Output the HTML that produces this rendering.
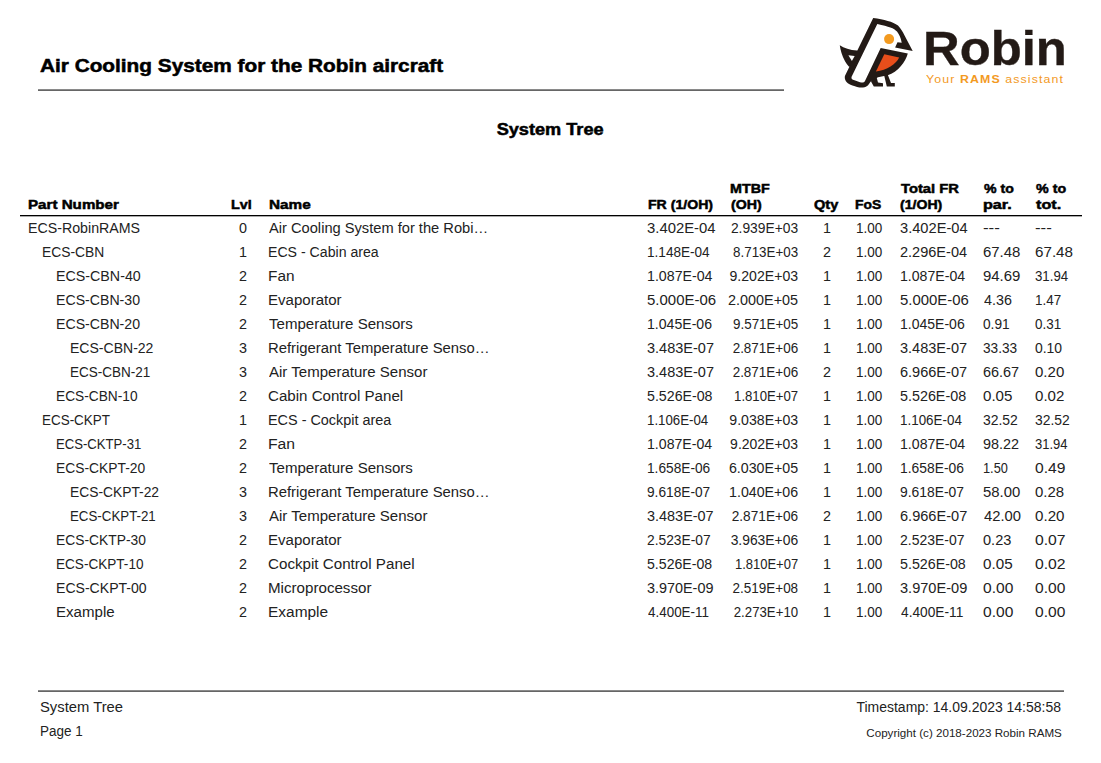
<!DOCTYPE html>
<html><head><meta charset="utf-8"><title>System Tree</title>
<style>
html,body{margin:0;padding:0;background:#fff;}
body{width:1101px;height:763px;position:relative;overflow:hidden;font-family:"Liberation Sans",sans-serif;}
div{position:absolute;white-space:nowrap;}
span{display:inline-block;}
.b{font-size:14px;line-height:24px;height:24px;color:#222;}
.h{font-size:13px;line-height:16px;height:16px;font-weight:bold;color:#000;-webkit-text-stroke:0.5px #000;}
.title{left:40px;top:54px;font-size:18px;line-height:24px;font-weight:bold;color:#000;-webkit-text-stroke:0.5px #000;}
.sub{left:0;width:1101px;text-align:center;top:120px;font-size:16px;line-height:20px;font-weight:bold;color:#000;-webkit-text-stroke:0.5px #000;}
.rule1{left:38px;top:89px;width:746px;height:1px;background:#666;border-top:1px solid #8a8a8a;}
.rule2{left:20px;top:215px;width:1062px;height:1px;background:#000;border-bottom:1px solid #aaa;}
.rule3{left:38px;top:690px;width:1026px;height:1px;background:#666;border-top:1px solid #8a8a8a;}
.ft{font-size:14px;line-height:20px;color:#222;}
.cp{font-size:10.5px;line-height:20px;color:#222;}
.robin{left:922.8px;top:23.3px;font-size:48.8px;line-height:50px;font-weight:bold;color:#231a16;-webkit-text-stroke:0.35px #231a16;transform:scaleX(1.041);transform-origin:left;}
.tag{left:926px;top:72px;font-size:11px;line-height:14px;color:#f39a1f;letter-spacing:1.0px;}
</style></head><body>
<div class="title"><span style="transform:scaleX(1.155);transform-origin:left">Air Cooling System for the Robin aircraft</span></div>
<div class="rule1"></div>
<svg style="position:absolute;left:0;top:0" width="1101" height="100" viewBox="0 0 1101 100">
<path fill="#231a16" d="M873.2,17.9 C884,19.5 893,21.5 898,25.5 C901,29 903,32 904.3,34.9 L912.7,51.1 L895.1,47.5 L897.5,42.2 L901.7,42.7 C901,38 899,34 897,31.5 C894,28 889,26.5 877.3,23.9 L851.6,76.7 C851,78.5 852,79.6 854.5,80.2 L860,82.2 C862.5,82.8 864,82.5 865,81 L870.9,80.5 C869.5,84 867.5,87 863,87.5 C860,87.8 857,87.3 850.5,84.7 C846.5,83 844.2,80 844.9,76 Z
M839.75,45.3 C844,48 850,50.2 857,50.5 L860,50.5 L852,67.5 L848.8,66.4 C847.5,65 846,63 844.9,60.9 C842,56 840.5,50 839.75,45.3 Z
M880.7,48 L907.8,53.5 C905.5,62 898,72 887.7,75.2 L878,77.3 L871.3,81 L868,84.5 L864.5,82 Z
M871,81.5 L876.4,76.5 L878,82.6 L883,83.3 L883,86.4 L873.8,86.4 Z
M884.3,76 L887.7,74.5 L891,83 L894.8,83 L894.8,86.4 L886.8,86.4 Z"/>
<path fill="#fff" d="M848.4,55.2 L854.7,56 L851.9,60.9 Z"/>
<path fill="#e84e1b" d="M884.3,54.2 L899.2,57.4 C896,64 887,70 875.9,71.5 Z"/>
<circle cx="889.1" cy="39.1" r="5" fill="#f39a1f"/>
</svg>

<div class="robin">Robin</div>
<div class="tag"><span style="transform:scaleX(1.1205);transform-origin:left">Your <b>RAMS</b> assistant</span></div>
<div class="sub"><span style="transform:scaleX(1.1344);transform-origin:center">System Tree</span></div>
<div class="h" style="left:28.0px;top:197px;"><span style="transform:scaleX(1.1654);transform-origin:left">Part Number</span></div>
<div class="h" style="left:231.0px;top:197px;"><span style="transform:scaleX(1.1066);transform-origin:left">Lvl</span></div>
<div class="h" style="left:269.3px;top:197px;"><span style="transform:scaleX(1.1782);transform-origin:left">Name</span></div>
<div class="h" style="left:647.6px;top:197px;"><span style="transform:scaleX(1.0849);transform-origin:left">FR (1/OH)</span></div>
<div class="h" style="left:730.0px;top:181px;"><span style="transform:scaleX(1.1);transform-origin:left">MTBF</span></div>
<div class="h" style="left:731.1px;top:197px;"><span style="transform:scaleX(1.0932);transform-origin:left">(OH)</span></div>
<div class="h" style="left:813.8px;top:197px;"><span style="transform:scaleX(1.1186);transform-origin:left">Qty</span></div>
<div class="h" style="left:854.6px;top:197px;"><span style="transform:scaleX(1.0666);transform-origin:left">FoS</span></div>
<div class="h" style="left:901.2px;top:181px;"><span style="transform:scaleX(1.1355);transform-origin:left">Total FR</span></div>
<div class="h" style="left:900.4px;top:197px;"><span style="transform:scaleX(1.085);transform-origin:left">(1/OH)</span></div>
<div class="h" style="left:984.0px;top:181px;"><span style="transform:scaleX(1.0859);transform-origin:left">% to</span></div>
<div class="h" style="left:982.9px;top:197px;"><span style="transform:scaleX(1.2427);transform-origin:left">par.</span></div>
<div class="h" style="left:1036.4px;top:181px;"><span style="transform:scaleX(1.0968);transform-origin:left">% to</span></div>
<div class="h" style="left:1036.4px;top:197px;"><span style="transform:scaleX(1.2456);transform-origin:left">tot.</span></div>
<div class="rule2"></div>
<div class="b" style="left:28.0px;top:216px;"><span style="transform:scaleX(1.0146);transform-origin:left">ECS-RobinRAMS</span></div>
<div class="b" style="left:142.8px;width:200px;top:216px;text-align:center;"><span style="transform:scaleX(1.025);transform-origin:center">0</span></div>
<div class="b" style="left:269.4px;top:216px;"><span style="transform:scaleX(1.0469);transform-origin:left">Air Cooling System for the Robi&hellip;</span></div>
<div class="b" style="left:646.7px;top:216px;"><span style="transform:scaleX(1.0613);transform-origin:left">3.402E-04</span></div>
<div class="b" style="right:303.2px;top:216px;text-align:right;"><span style="transform:scaleX(0.9864);transform-origin:right">2.939E+03</span></div>
<div class="b" style="left:726.5px;width:200px;top:216px;text-align:center;"><span style="transform:scaleX(1.025);transform-origin:center">1</span></div>
<div class="b" style="left:856.2px;top:216px;"><span style="transform:scaleX(0.9635);transform-origin:left">1.00</span></div>
<div class="b" style="left:899.7px;top:216px;"><span style="transform:scaleX(1.0455);transform-origin:left">3.402E-04</span></div>
<div class="b" style="left:983.1px;top:216px;"><span style="transform:scaleX(1.2065);transform-origin:left">---</span></div>
<div class="b" style="left:1035.2px;top:216px;"><span style="transform:scaleX(1.1999);transform-origin:left">---</span></div>
<div class="b" style="left:42.0px;top:240px;"><span style="transform:scaleX(0.9878);transform-origin:left">ECS-CBN</span></div>
<div class="b" style="left:142.8px;width:200px;top:240px;text-align:center;"><span style="transform:scaleX(1.025);transform-origin:center">1</span></div>
<div class="b" style="left:268.4px;top:240px;"><span style="transform:scaleX(1.0087);transform-origin:left">ECS - Cabin area</span></div>
<div class="b" style="left:646.7px;top:240px;"><span style="transform:scaleX(0.9699);transform-origin:left">1.148E-04</span></div>
<div class="b" style="right:303.2px;top:240px;text-align:right;"><span style="transform:scaleX(0.9552);transform-origin:right">8.713E+03</span></div>
<div class="b" style="left:726.5px;width:200px;top:240px;text-align:center;"><span style="transform:scaleX(1.025);transform-origin:center">2</span></div>
<div class="b" style="left:856.2px;top:240px;"><span style="transform:scaleX(0.9635);transform-origin:left">1.00</span></div>
<div class="b" style="left:899.7px;top:240px;"><span style="transform:scaleX(1.0377);transform-origin:left">2.296E-04</span></div>
<div class="b" style="left:983.1px;top:240px;"><span style="transform:scaleX(1.0673);transform-origin:left">67.48</span></div>
<div class="b" style="left:1035.2px;top:240px;"><span style="transform:scaleX(1.0853);transform-origin:left">67.48</span></div>
<div class="b" style="left:56.0px;top:264px;"><span style="transform:scaleX(1.0179);transform-origin:left">ECS-CBN-40</span></div>
<div class="b" style="left:142.8px;width:200px;top:264px;text-align:center;"><span style="transform:scaleX(1.025);transform-origin:center">2</span></div>
<div class="b" style="left:268.4px;top:264px;"><span style="transform:scaleX(1.0974);transform-origin:left">Fan</span></div>
<div class="b" style="left:646.7px;top:264px;"><span style="transform:scaleX(1.014);transform-origin:left">1.087E-04</span></div>
<div class="b" style="right:303.2px;top:264px;text-align:right;"><span style="transform:scaleX(1.0072);transform-origin:right">9.202E+03</span></div>
<div class="b" style="left:726.5px;width:200px;top:264px;text-align:center;"><span style="transform:scaleX(1.025);transform-origin:center">1</span></div>
<div class="b" style="left:856.2px;top:264px;"><span style="transform:scaleX(0.9635);transform-origin:left">1.00</span></div>
<div class="b" style="left:899.7px;top:264px;"><span style="transform:scaleX(1.0077);transform-origin:left">1.087E-04</span></div>
<div class="b" style="left:983.1px;top:264px;"><span style="transform:scaleX(1.0673);transform-origin:left">94.69</span></div>
<div class="b" style="left:1035.2px;top:264px;"><span style="transform:scaleX(0.946);transform-origin:left">31.94</span></div>
<div class="b" style="left:56.0px;top:288px;"><span style="transform:scaleX(1.0093);transform-origin:left">ECS-CBN-30</span></div>
<div class="b" style="left:142.8px;width:200px;top:288px;text-align:center;"><span style="transform:scaleX(1.025);transform-origin:center">2</span></div>
<div class="b" style="left:268.4px;top:288px;"><span style="transform:scaleX(1.0745);transform-origin:left">Evaporator</span></div>
<div class="b" style="left:646.7px;top:288px;"><span style="transform:scaleX(1.0692);transform-origin:left">5.000E-06</span></div>
<div class="b" style="right:303.2px;top:288px;text-align:right;"><span style="transform:scaleX(1.028);transform-origin:right">2.000E+05</span></div>
<div class="b" style="left:726.5px;width:200px;top:288px;text-align:center;"><span style="transform:scaleX(1.025);transform-origin:center">1</span></div>
<div class="b" style="left:856.2px;top:288px;"><span style="transform:scaleX(0.9635);transform-origin:left">1.00</span></div>
<div class="b" style="left:899.7px;top:288px;"><span style="transform:scaleX(1.0645);transform-origin:left">5.000E-06</span></div>
<div class="b" style="left:984.1px;top:288px;"><span style="transform:scaleX(1.0217);transform-origin:left">4.36</span></div>
<div class="b" style="left:1035.2px;top:288px;"><span style="transform:scaleX(0.958);transform-origin:left">1.47</span></div>
<div class="b" style="left:56.0px;top:312px;"><span style="transform:scaleX(1.0093);transform-origin:left">ECS-CBN-20</span></div>
<div class="b" style="left:142.8px;width:200px;top:312px;text-align:center;"><span style="transform:scaleX(1.025);transform-origin:center">2</span></div>
<div class="b" style="left:269.4px;top:312px;"><span style="transform:scaleX(1.0748);transform-origin:left">Temperature Sensors</span></div>
<div class="b" style="left:646.7px;top:312px;"><span style="transform:scaleX(1.0061);transform-origin:left">1.045E-06</span></div>
<div class="b" style="right:303.2px;top:312px;text-align:right;"><span style="transform:scaleX(0.9552);transform-origin:right">9.571E+05</span></div>
<div class="b" style="left:726.5px;width:200px;top:312px;text-align:center;"><span style="transform:scaleX(1.025);transform-origin:center">1</span></div>
<div class="b" style="left:856.2px;top:312px;"><span style="transform:scaleX(0.9635);transform-origin:left">1.00</span></div>
<div class="b" style="left:899.7px;top:312px;"><span style="transform:scaleX(1.0014);transform-origin:left">1.045E-06</span></div>
<div class="b" style="left:983.1px;top:312px;"><span style="transform:scaleX(0.9781);transform-origin:left">0.91</span></div>
<div class="b" style="left:1035.2px;top:312px;"><span style="transform:scaleX(0.958);transform-origin:left">0.31</span></div>
<div class="b" style="left:70.0px;top:336px;"><span style="transform:scaleX(1.002);transform-origin:left">ECS-CBN-22</span></div>
<div class="b" style="left:142.8px;width:200px;top:336px;text-align:center;"><span style="transform:scaleX(1.025);transform-origin:center">3</span></div>
<div class="b" style="left:268.4px;top:336px;"><span style="transform:scaleX(1.0599);transform-origin:left">Refrigerant Temperature Senso&hellip;</span></div>
<div class="b" style="left:646.7px;top:336px;"><span style="transform:scaleX(1.0362);transform-origin:left">3.483E-07</span></div>
<div class="b" style="right:303.2px;top:336px;text-align:right;"><span style="transform:scaleX(0.9611);transform-origin:right">2.871E+06</span></div>
<div class="b" style="left:726.5px;width:200px;top:336px;text-align:center;"><span style="transform:scaleX(1.025);transform-origin:center">1</span></div>
<div class="b" style="left:856.2px;top:336px;"><span style="transform:scaleX(0.9635);transform-origin:left">1.00</span></div>
<div class="b" style="left:899.7px;top:336px;"><span style="transform:scaleX(1.0377);transform-origin:left">3.483E-07</span></div>
<div class="b" style="left:983.1px;top:336px;"><span style="transform:scaleX(0.9744);transform-origin:left">33.33</span></div>
<div class="b" style="left:1035.2px;top:336px;"><span style="transform:scaleX(0.9954);transform-origin:left">0.10</span></div>
<div class="b" style="left:70.0px;top:360px;"><span style="transform:scaleX(0.964);transform-origin:left">ECS-CBN-21</span></div>
<div class="b" style="left:142.8px;width:200px;top:360px;text-align:center;"><span style="transform:scaleX(1.025);transform-origin:center">3</span></div>
<div class="b" style="left:269.4px;top:360px;"><span style="transform:scaleX(1.0736);transform-origin:left">Air Temperature Sensor</span></div>
<div class="b" style="left:646.7px;top:360px;"><span style="transform:scaleX(1.0362);transform-origin:left">3.483E-07</span></div>
<div class="b" style="right:303.2px;top:360px;text-align:right;"><span style="transform:scaleX(0.9611);transform-origin:right">2.871E+06</span></div>
<div class="b" style="left:726.5px;width:200px;top:360px;text-align:center;"><span style="transform:scaleX(1.025);transform-origin:center">2</span></div>
<div class="b" style="left:856.2px;top:360px;"><span style="transform:scaleX(0.9635);transform-origin:left">1.00</span></div>
<div class="b" style="left:899.7px;top:360px;"><span style="transform:scaleX(1.0377);transform-origin:left">6.966E-07</span></div>
<div class="b" style="left:983.1px;top:360px;"><span style="transform:scaleX(1.0313);transform-origin:left">66.67</span></div>
<div class="b" style="left:1035.2px;top:360px;"><span style="transform:scaleX(1.0744);transform-origin:left">0.20</span></div>
<div class="b" style="left:56.0px;top:384px;"><span style="transform:scaleX(0.9799);transform-origin:left">ECS-CBN-10</span></div>
<div class="b" style="left:142.8px;width:200px;top:384px;text-align:center;"><span style="transform:scaleX(1.025);transform-origin:center">2</span></div>
<div class="b" style="left:268.4px;top:384px;"><span style="transform:scaleX(1.0788);transform-origin:left">Cabin Control Panel</span></div>
<div class="b" style="left:646.7px;top:384px;"><span style="transform:scaleX(1.014);transform-origin:left">5.526E-08</span></div>
<div class="b" style="right:303.2px;top:384px;text-align:right;"><span style="transform:scaleX(0.9403);transform-origin:right">1.810E+07</span></div>
<div class="b" style="left:726.5px;width:200px;top:384px;text-align:center;"><span style="transform:scaleX(1.025);transform-origin:center">1</span></div>
<div class="b" style="left:856.2px;top:384px;"><span style="transform:scaleX(0.9635);transform-origin:left">1.00</span></div>
<div class="b" style="left:899.7px;top:384px;"><span style="transform:scaleX(1.0235);transform-origin:left">5.526E-08</span></div>
<div class="b" style="left:983.1px;top:384px;"><span style="transform:scaleX(1.0789);transform-origin:left">0.05</span></div>
<div class="b" style="left:1035.2px;top:384px;"><span style="transform:scaleX(1.0772);transform-origin:left">0.02</span></div>
<div class="b" style="left:42.0px;top:408px;"><span style="transform:scaleX(0.9598);transform-origin:left">ECS-CKPT</span></div>
<div class="b" style="left:142.8px;width:200px;top:408px;text-align:center;"><span style="transform:scaleX(1.025);transform-origin:center">1</span></div>
<div class="b" style="left:268.4px;top:408px;"><span style="transform:scaleX(1.0295);transform-origin:left">ECS - Cockpit area</span></div>
<div class="b" style="left:646.7px;top:408px;"><span style="transform:scaleX(0.9478);transform-origin:left">1.106E-04</span></div>
<div class="b" style="right:303.2px;top:408px;text-align:right;"><span style="transform:scaleX(1.0101);transform-origin:right">9.038E+03</span></div>
<div class="b" style="left:726.5px;width:200px;top:408px;text-align:center;"><span style="transform:scaleX(1.025);transform-origin:center">1</span></div>
<div class="b" style="left:856.2px;top:408px;"><span style="transform:scaleX(0.9635);transform-origin:left">1.00</span></div>
<div class="b" style="left:899.7px;top:408px;"><span style="transform:scaleX(0.9572);transform-origin:left">1.106E-04</span></div>
<div class="b" style="left:983.1px;top:408px;"><span style="transform:scaleX(0.9949);transform-origin:left">32.52</span></div>
<div class="b" style="left:1035.2px;top:408px;"><span style="transform:scaleX(0.9922);transform-origin:left">32.52</span></div>
<div class="b" style="left:56.0px;top:432px;"><span style="transform:scaleX(0.9363);transform-origin:left">ECS-CKTP-31</span></div>
<div class="b" style="left:142.8px;width:200px;top:432px;text-align:center;"><span style="transform:scaleX(1.025);transform-origin:center">2</span></div>
<div class="b" style="left:268.4px;top:432px;"><span style="transform:scaleX(1.1243);transform-origin:left">Fan</span></div>
<div class="b" style="left:646.7px;top:432px;"><span style="transform:scaleX(1.0092);transform-origin:left">1.087E-04</span></div>
<div class="b" style="right:303.2px;top:432px;text-align:right;"><span style="transform:scaleX(0.9983);transform-origin:right">9.202E+03</span></div>
<div class="b" style="left:726.5px;width:200px;top:432px;text-align:center;"><span style="transform:scaleX(1.025);transform-origin:center">1</span></div>
<div class="b" style="left:856.2px;top:432px;"><span style="transform:scaleX(0.9635);transform-origin:left">1.00</span></div>
<div class="b" style="left:899.7px;top:432px;"><span style="transform:scaleX(1.0092);transform-origin:left">1.087E-04</span></div>
<div class="b" style="left:983.1px;top:432px;"><span style="transform:scaleX(1.0282);transform-origin:left">98.22</span></div>
<div class="b" style="left:1035.2px;top:432px;"><span style="transform:scaleX(0.9284);transform-origin:left">31.94</span></div>
<div class="b" style="left:56.0px;top:456px;"><span style="transform:scaleX(0.9876);transform-origin:left">ECS-CKPT-20</span></div>
<div class="b" style="left:142.8px;width:200px;top:456px;text-align:center;"><span style="transform:scaleX(1.025);transform-origin:center">2</span></div>
<div class="b" style="left:269.4px;top:456px;"><span style="transform:scaleX(1.0748);transform-origin:left">Temperature Sensors</span></div>
<div class="b" style="left:646.7px;top:456px;"><span style="transform:scaleX(0.9777);transform-origin:left">1.658E-06</span></div>
<div class="b" style="right:303.2px;top:456px;text-align:right;"><span style="transform:scaleX(1.0161);transform-origin:right">6.030E+05</span></div>
<div class="b" style="left:726.5px;width:200px;top:456px;text-align:center;"><span style="transform:scaleX(1.025);transform-origin:center">1</span></div>
<div class="b" style="left:856.2px;top:456px;"><span style="transform:scaleX(0.9635);transform-origin:left">1.00</span></div>
<div class="b" style="left:899.7px;top:456px;"><span style="transform:scaleX(0.9904);transform-origin:left">1.658E-06</span></div>
<div class="b" style="left:983.1px;top:456px;"><span style="transform:scaleX(0.9127);transform-origin:left">1.50</span></div>
<div class="b" style="left:1035.2px;top:456px;"><span style="transform:scaleX(1.1166);transform-origin:left">0.49</span></div>
<div class="b" style="left:70.0px;top:480px;"><span style="transform:scaleX(0.9864);transform-origin:left">ECS-CKPT-22</span></div>
<div class="b" style="left:142.8px;width:200px;top:480px;text-align:center;"><span style="transform:scaleX(1.025);transform-origin:center">3</span></div>
<div class="b" style="left:268.4px;top:480px;"><span style="transform:scaleX(1.0599);transform-origin:left">Refrigerant Temperature Senso&hellip;</span></div>
<div class="b" style="left:646.7px;top:480px;"><span style="transform:scaleX(0.9777);transform-origin:left">9.618E-07</span></div>
<div class="b" style="right:303.2px;top:480px;text-align:right;"><span style="transform:scaleX(1.0132);transform-origin:right">1.040E+06</span></div>
<div class="b" style="left:726.5px;width:200px;top:480px;text-align:center;"><span style="transform:scaleX(1.025);transform-origin:center">1</span></div>
<div class="b" style="left:856.2px;top:480px;"><span style="transform:scaleX(0.9635);transform-origin:left">1.00</span></div>
<div class="b" style="left:899.7px;top:480px;"><span style="transform:scaleX(0.9904);transform-origin:left">9.618E-07</span></div>
<div class="b" style="left:983.1px;top:480px;"><span style="transform:scaleX(1.0631);transform-origin:left">58.00</span></div>
<div class="b" style="left:1035.2px;top:480px;"><span style="transform:scaleX(1.0687);transform-origin:left">0.28</span></div>
<div class="b" style="left:70.0px;top:504px;"><span style="transform:scaleX(0.9502);transform-origin:left">ECS-CKPT-21</span></div>
<div class="b" style="left:142.8px;width:200px;top:504px;text-align:center;"><span style="transform:scaleX(1.025);transform-origin:center">3</span></div>
<div class="b" style="left:269.4px;top:504px;"><span style="transform:scaleX(1.0736);transform-origin:left">Air Temperature Sensor</span></div>
<div class="b" style="left:646.7px;top:504px;"><span style="transform:scaleX(1.0314);transform-origin:left">3.483E-07</span></div>
<div class="b" style="right:303.2px;top:504px;text-align:right;"><span style="transform:scaleX(0.9745);transform-origin:right">2.871E+06</span></div>
<div class="b" style="left:726.5px;width:200px;top:504px;text-align:center;"><span style="transform:scaleX(1.025);transform-origin:center">2</span></div>
<div class="b" style="left:856.2px;top:504px;"><span style="transform:scaleX(0.9635);transform-origin:left">1.00</span></div>
<div class="b" style="left:899.7px;top:504px;"><span style="transform:scaleX(1.0408);transform-origin:left">6.966E-07</span></div>
<div class="b" style="left:984.1px;top:504px;"><span style="transform:scaleX(1.0566);transform-origin:left">42.00</span></div>
<div class="b" style="left:1035.2px;top:504px;"><span style="transform:scaleX(1.0823);transform-origin:left">0.20</span></div>
<div class="b" style="left:56.0px;top:528px;"><span style="transform:scaleX(0.9877);transform-origin:left">ECS-CKTP-30</span></div>
<div class="b" style="left:142.8px;width:200px;top:528px;text-align:center;"><span style="transform:scaleX(1.025);transform-origin:center">2</span></div>
<div class="b" style="left:268.4px;top:528px;"><span style="transform:scaleX(1.0745);transform-origin:left">Evaporator</span></div>
<div class="b" style="left:646.7px;top:528px;"><span style="transform:scaleX(0.9856);transform-origin:left">2.523E-07</span></div>
<div class="b" style="right:303.2px;top:528px;text-align:right;"><span style="transform:scaleX(0.9908);transform-origin:right">3.963E+06</span></div>
<div class="b" style="left:726.5px;width:200px;top:528px;text-align:center;"><span style="transform:scaleX(1.025);transform-origin:center">1</span></div>
<div class="b" style="left:856.2px;top:528px;"><span style="transform:scaleX(0.9635);transform-origin:left">1.00</span></div>
<div class="b" style="left:899.7px;top:528px;"><span style="transform:scaleX(0.9982);transform-origin:left">2.523E-07</span></div>
<div class="b" style="left:983.1px;top:528px;"><span style="transform:scaleX(1.0409);transform-origin:left">0.23</span></div>
<div class="b" style="left:1035.2px;top:528px;"><span style="transform:scaleX(1.1239);transform-origin:left">0.07</span></div>
<div class="b" style="left:56.0px;top:552px;"><span style="transform:scaleX(0.9694);transform-origin:left">ECS-CKPT-10</span></div>
<div class="b" style="left:142.8px;width:200px;top:552px;text-align:center;"><span style="transform:scaleX(1.025);transform-origin:center">2</span></div>
<div class="b" style="left:268.4px;top:552px;"><span style="transform:scaleX(1.083);transform-origin:left">Cockpit Control Panel</span></div>
<div class="b" style="left:646.7px;top:552px;"><span style="transform:scaleX(1.0092);transform-origin:left">5.526E-08</span></div>
<div class="b" style="right:303.2px;top:552px;text-align:right;"><span style="transform:scaleX(0.9271);transform-origin:right">1.810E+07</span></div>
<div class="b" style="left:726.5px;width:200px;top:552px;text-align:center;"><span style="transform:scaleX(1.025);transform-origin:center">1</span></div>
<div class="b" style="left:856.2px;top:552px;"><span style="transform:scaleX(0.9635);transform-origin:left">1.00</span></div>
<div class="b" style="left:899.7px;top:552px;"><span style="transform:scaleX(1.0172);transform-origin:left">5.526E-08</span></div>
<div class="b" style="left:983.1px;top:552px;"><span style="transform:scaleX(1.0859);transform-origin:left">0.05</span></div>
<div class="b" style="left:1035.2px;top:552px;"><span style="transform:scaleX(1.1239);transform-origin:left">0.02</span></div>
<div class="b" style="left:56.0px;top:576px;"><span style="transform:scaleX(1.0045);transform-origin:left">ECS-CKPT-00</span></div>
<div class="b" style="left:142.8px;width:200px;top:576px;text-align:center;"><span style="transform:scaleX(1.025);transform-origin:center">2</span></div>
<div class="b" style="left:268.4px;top:576px;"><span style="transform:scaleX(1.0812);transform-origin:left">Microprocessor</span></div>
<div class="b" style="left:646.7px;top:576px;"><span style="transform:scaleX(1.0282);transform-origin:left">3.970E-09</span></div>
<div class="b" style="right:303.2px;top:576px;text-align:right;"><span style="transform:scaleX(0.9627);transform-origin:right">2.519E+08</span></div>
<div class="b" style="left:726.5px;width:200px;top:576px;text-align:center;"><span style="transform:scaleX(1.025);transform-origin:center">1</span></div>
<div class="b" style="left:856.2px;top:576px;"><span style="transform:scaleX(0.9635);transform-origin:left">1.00</span></div>
<div class="b" style="left:899.7px;top:576px;"><span style="transform:scaleX(1.0408);transform-origin:left">3.970E-09</span></div>
<div class="b" style="left:983.1px;top:576px;"><span style="transform:scaleX(1.1124);transform-origin:left">0.00</span></div>
<div class="b" style="left:1035.2px;top:576px;"><span style="transform:scaleX(1.1124);transform-origin:left">0.00</span></div>
<div class="b" style="left:56.0px;top:600px;"><span style="transform:scaleX(1.0763);transform-origin:left">Example</span></div>
<div class="b" style="left:142.8px;width:200px;top:600px;text-align:center;"><span style="transform:scaleX(1.025);transform-origin:center">2</span></div>
<div class="b" style="left:268.4px;top:600px;"><span style="transform:scaleX(1.1037);transform-origin:left">Example</span></div>
<div class="b" style="left:647.7px;top:600px;"><span style="transform:scaleX(0.9588);transform-origin:left">4.400E-11</span></div>
<div class="b" style="right:303.2px;top:600px;text-align:right;"><span style="transform:scaleX(0.9448);transform-origin:right">2.273E+10</span></div>
<div class="b" style="left:726.5px;width:200px;top:600px;text-align:center;"><span style="transform:scaleX(1.025);transform-origin:center">1</span></div>
<div class="b" style="left:856.2px;top:600px;"><span style="transform:scaleX(0.9635);transform-origin:left">1.00</span></div>
<div class="b" style="left:900.7px;top:600px;"><span style="transform:scaleX(0.9794);transform-origin:left">4.400E-11</span></div>
<div class="b" style="left:983.1px;top:600px;"><span style="transform:scaleX(1.1124);transform-origin:left">0.00</span></div>
<div class="b" style="left:1035.2px;top:600px;"><span style="transform:scaleX(1.1124);transform-origin:left">0.00</span></div>
<div class="rule3"></div>
<div class="ft" style="left:40px;top:697px;"><span style="transform:scaleX(1.0567857142857142);transform-origin:left">System Tree</span></div>
<div class="ft" style="left:40px;top:721px;"><span style="transform:scaleX(0.9633478802992518);transform-origin:left">Page 1</span></div>
<div class="ft" style="right:40px;top:697px;text-align:right;"><span style="transform:scaleX(0.997664077669903);transform-origin:right">Timestamp: 14.09.2023 14:58:58</span></div>
<div class="cp" style="right:39px;top:723px;text-align:right;"><span style="transform:scaleX(1.105699481865285);transform-origin:right">Copyright (c) 2018-2023 Robin RAMS</span></div>
</body></html>
